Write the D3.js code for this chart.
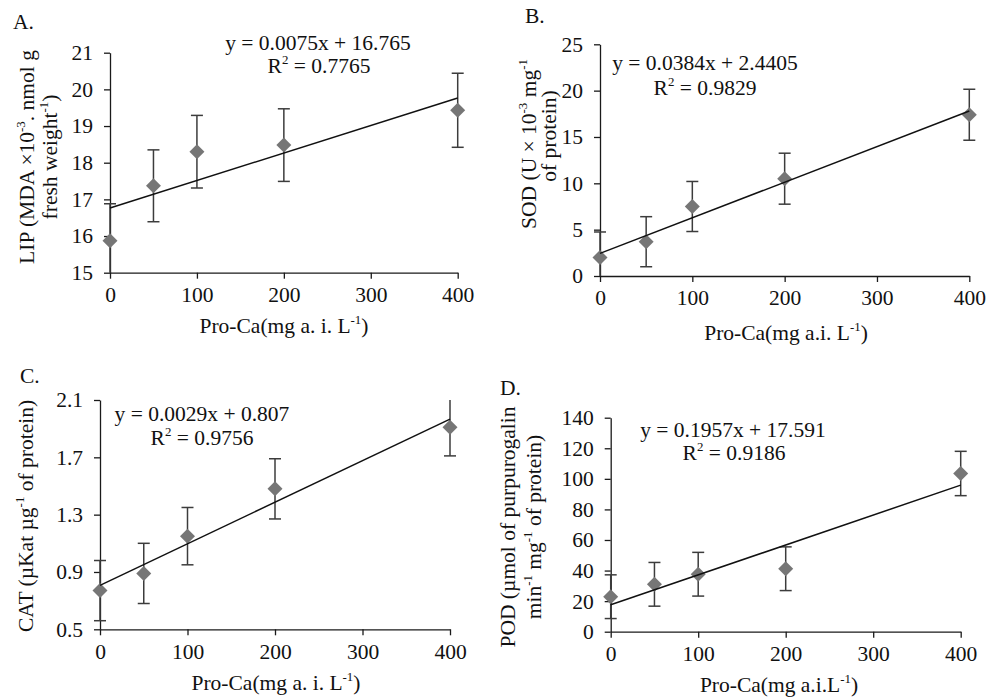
<!DOCTYPE html>
<html>
<head>
<meta charset="utf-8">
<script src="https://cdn.jsdelivr.net/npm/d3@7"></script>
<style>
  body { margin: 0; background: #fff; }
  svg { display: block; }
  text { font-family: "Liberation Serif", "Times New Roman", serif; fill: #111; }
</style>
</head>
<body>
<svg id="chart" width="987" height="700"></svg>
<script>
// dose levels (mg a.i. L-1)
const doses = [0, 50, 100, 200, 400];
const xTicks = [0, 100, 200, 300, 400];

// A. LIP
const lipMean = [15.87, 17.37, 18.3, 18.48, 19.43];
const lipErr = [1.01, 0.98, 0.99, 0.99, 1.01];
const lipFit = [0.0075, 16.765];
const lipTicks = [15, 16, 17, 18, 19, 20, 21];

// B. SOD
const sodMean = [2.0, 3.7, 7.5, 10.5, 17.4];
const sodErr = [2.75, 2.7, 2.7, 2.75, 2.75];
const sodFit = [0.0384, 2.4405];
const sodTicks = [0, 5, 10, 15, 20, 25];

// C. CAT
const catMean = [0.77, 0.89, 1.15, 1.48, 1.91];
const catErr = [0.21, 0.21, 0.2, 0.21, 0.2];
const catFit = [0.0029, 0.807];
const catTicks = [0.5, 0.9, 1.3, 1.7, 2.1];

// D. POD
const podMean = [22.9, 31.0, 37.6, 41.2, 103.5];
const podErr = [14.3, 14.3, 14.3, 14.3, 14.5];
const podFit = [0.1957, 17.591];
const podTicks = [0, 20, 40, 60, 80, 100, 120, 140];

const svg = d3.select("#chart");

// rich text: array of [string, isSuperscript]
function rich(sel, parts, size) {
  parts.forEach(([t, sup], i) => {
    const prevSup = i > 0 && parts[i - 1][1];
    let dy = 0;
    if (sup && !prevSup) dy = -0.4 * size;
    if (!sup && prevSup) dy = 0.4 * size;
    sel.append("tspan")
      .attr("dy", dy)
      .attr("font-size", sup ? size * 0.6 : size)
      .text(t);
  });
}

const panels = [
  {
    letter: "A.", lx: 13, ly: 29,
    x0: 110, x1: 457.7, yTop: 52.7, yBot: 272.7,
    yDomain: [15, 21], ticks: lipTicks, mean: lipMean, err: lipErr, fit: lipFit,
    eq: ["y = 0.0075x + 16.765", 318, 50], r2: ["0.7765", 319, 73],
    ylab: [
      { x: 34, y: 157, parts: [["LIP (MDA ×10", 0], ["-3", 1], [". nmol g", 0]] },
      { x: 57, y: 157, parts: [["fresh weight", 0], ["-1", 1], [")", 0]] }
    ],
    xlab: { x: 284, y: 333, parts: [["Pro-Ca(mg a. i. L", 0], ["-1", 1], [")", 0]] }
  },
  {
    letter: "B.", lx: 525, ly: 23,
    x0: 600, x1: 969.3, yTop: 44.3, yBot: 276,
    yDomain: [0, 25], ticks: sodTicks, mean: sodMean, err: sodErr, fit: sodFit,
    eq: ["y = 0.0384x + 2.4405", 705, 70], r2: ["0.9829", 705, 95],
    ylab: [
      { x: 536, y: 144, parts: [["SOD (U × 10", 0], ["-3", 1], [" mg", 0], ["-1", 1]] },
      { x: 556, y: 136, parts: [["of protein)", 0]] }
    ],
    xlab: { x: 786, y: 340, parts: [["Pro-Ca(mg a.i. L", 0], ["-1", 1], [")", 0]] }
  },
  {
    letter: "C.", lx: 20, ly: 383,
    x0: 100, x1: 450, yTop: 400, yBot: 629.3,
    yDomain: [0.5, 2.1], ticks: catTicks, mean: catMean, err: catErr, fit: catFit,
    eq: ["y = 0.0029x + 0.807", 202, 421], r2: ["0.9756", 202, 445],
    ylab: [
      { x: 33, y: 516, parts: [["CAT (µKat µg", 0], ["-1", 1], [" of protein)", 0]] }
    ],
    xlab: { x: 276, y: 690, parts: [["Pro-Ca(mg a. i. L", 0], ["-1", 1], [")", 0]] }
  },
  {
    letter: "D.", lx: 500, ly: 395,
    x0: 610.7, x1: 960.7, yTop: 417.7, yBot: 631.7,
    yDomain: [0, 140], ticks: podTicks, mean: podMean, err: podErr, fit: podFit,
    eq: ["y = 0.1957x + 17.591", 733, 437], r2: ["0.9186", 734, 460],
    ylab: [
      { x: 515, y: 527, parts: [["POD (µmol of purpurogalin", 0]] },
      { x: 541, y: 527, parts: [["min", 0], ["-1", 1], [" mg", 0], ["-1", 1], [" of protein)", 0]] }
    ],
    xlab: { x: 779, y: 692, parts: [["Pro-Ca(mg a.i.L", 0], ["-1", 1], [")", 0]] }
  }
];

const fs = 21.5;

panels.forEach(p => {
  const x = d3.scaleLinear().domain([0, 400]).range([p.x0, p.x1]);
  const y = d3.scaleLinear().domain(p.yDomain).range([p.yBot, p.yTop]);
  const g = svg.append("g");

  // axes
  const xAxis = g.append("g")
    .attr("transform", `translate(0,${p.yBot})`)
    .call(d3.axisBottom(x).tickValues(xTicks).tickSize(6).tickSizeOuter(0).tickPadding(8));
  const yAxis = g.append("g")
    .attr("transform", `translate(${p.x0},0)`)
    .call(d3.axisLeft(y).tickValues(p.ticks).tickSize(6).tickSizeOuter(0).tickPadding(11)
      .tickFormat(d => d3.format("")(d)));
  [xAxis, yAxis].forEach(a => {
    a.selectAll("path, line").attr("stroke", "#1a1a1a").attr("stroke-width", 1.3);
    a.selectAll("text").attr("font-size", fs).attr("fill", "#111")
      .attr("font-family", "'Liberation Serif', 'Times New Roman', serif");
  });

  // error bars
  const [lo, hi] = p.yDomain;
  const pts = doses.map((d, i) => ({ d, m: p.mean[i], e: p.err[i] }));
  const eb = g.append("g").attr("stroke", "#3c3c3c").attr("stroke-width", 1.5);
  pts.forEach(pt => {
    const top = Math.min(pt.m + pt.e, hi), bot = Math.max(pt.m - pt.e, lo);
    eb.append("line").attr("x1", x(pt.d)).attr("x2", x(pt.d))
      .attr("y1", y(top)).attr("y2", y(bot));
    if (pt.m + pt.e <= hi)
      eb.append("line").attr("x1", x(pt.d) - 6).attr("x2", x(pt.d) + 6)
        .attr("y1", y(top)).attr("y2", y(top));
    if (pt.m - pt.e >= lo)
      eb.append("line").attr("x1", x(pt.d) - 6).attr("x2", x(pt.d) + 6)
        .attr("y1", y(bot)).attr("y2", y(bot));
  });

  // diamonds
  g.selectAll(".pt").data(pts).join("path")
    .attr("d", d3.symbol(d3.symbolSquare, 112))
    .attr("transform", pt => `translate(${x(pt.d)},${y(pt.m)}) rotate(45)`)
    .attr("fill", "#767676");

  // linear trend line
  const line = d3.line().x(d => x(d)).y(d => y(p.fit[0] * d + p.fit[1]));
  g.append("path").attr("d", line([0, 400]))
    .attr("fill", "none").attr("stroke", "#111").attr("stroke-width", 1.5);

  // equation
  g.append("text").attr("x", p.eq[1]).attr("y", p.eq[2]).attr("text-anchor", "middle")
    .attr("font-size", fs).text(p.eq[0]);
  const r = g.append("text").attr("x", p.r2[1]).attr("y", p.r2[2]).attr("text-anchor", "middle");
  rich(r, [["R", 0], ["2", 1], [" = " + p.r2[0], 0]], fs);

  // panel letter
  g.append("text").attr("x", p.lx).attr("y", p.ly).attr("font-size", fs).text(p.letter);

  // y label
  p.ylab.forEach(l => {
    const t = g.append("text")
      .attr("transform", `translate(${l.x},${l.y}) rotate(-90)`)
      .attr("text-anchor", "middle");
    rich(t, l.parts, fs);
  });

  // x label
  const xl = g.append("text").attr("x", p.xlab.x).attr("y", p.xlab.y).attr("text-anchor", "middle");
  rich(xl, p.xlab.parts, fs);
});
</script>
</body>
</html>
